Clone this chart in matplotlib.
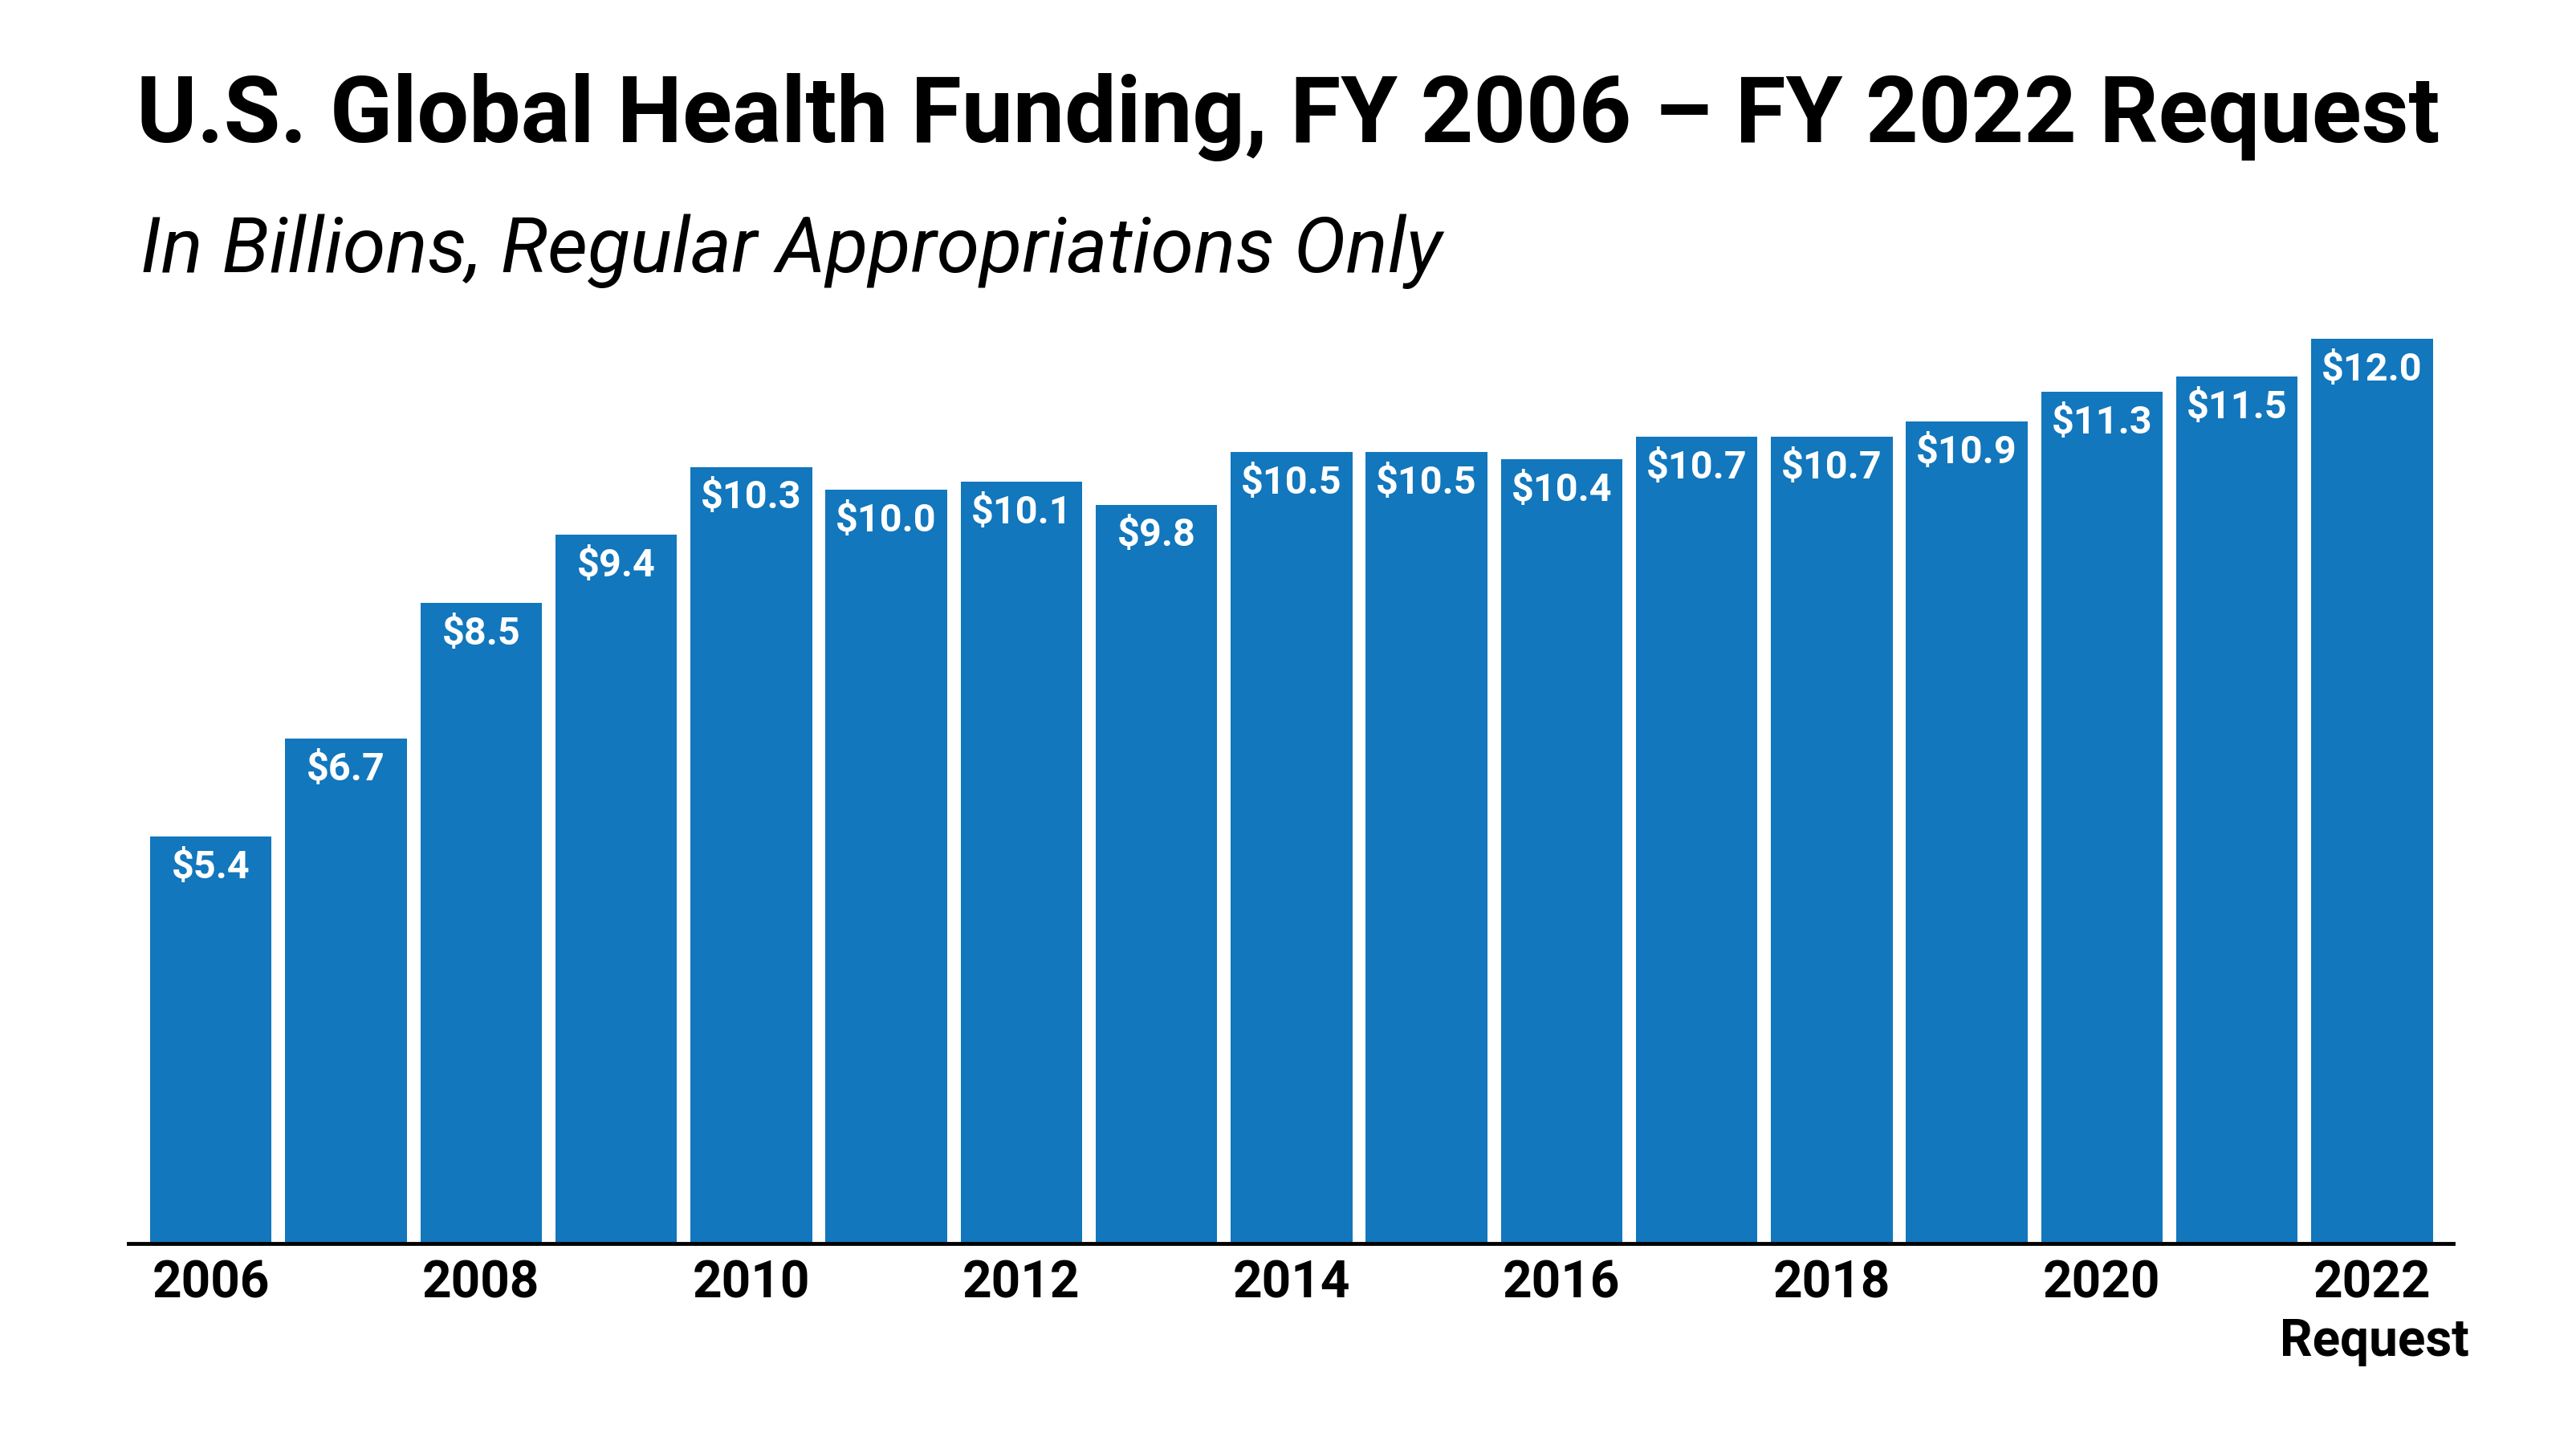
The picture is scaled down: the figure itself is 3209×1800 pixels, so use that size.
import matplotlib
matplotlib.use("Agg")
import matplotlib.pyplot as plt

years = [2006, 2007, 2008, 2009, 2010, 2011, 2012, 2013, 2014, 2015,
         2016, 2017, 2018, 2019, 2020, 2021, 2022]
funding = [5.4, 6.7, 8.5, 9.4, 10.3, 10.0, 10.1, 9.8, 10.5, 10.5,
           10.4, 10.7, 10.7, 10.9, 11.3, 11.5, 12.0]
tick_years = [2006, 2008, 2010, 2012, 2014, 2016, 2018, 2020, 2022]

BLUE = "#1277bc"
plt.rcParams['font.family'] = ['Roboto', 'DejaVu Sans']

fig = plt.figure(figsize=(32.09, 18.0), dpi=100)
ax = fig.add_axes([0.0499, 0.1394, 0.9024, 0.6262])

x = list(range(len(years)))
bars = ax.bar(x, funding, width=0.9, color=BLUE)

# value labels inside the top of each bar
for xi, v in zip(x, funding):
    ax.annotate("$%.1f" % v, (xi, v), xytext=(0, -28), textcoords="offset points",
                ha="center", va="center", color="white", fontsize=35, fontweight="bold")

ax.set_xlim(-0.61, 16.6)
ax.set_ylim(0, 12.0)
tick_pos = [years.index(y) for y in tick_years]
ax.set_xticks(tick_pos)
ax.set_xticklabels([str(y) for y in tick_years], fontsize=46, fontweight="bold")
ax.tick_params(axis="x", length=0, pad=14)
ax.set_yticks([])
for s in ["top", "right", "left"]:
    ax.spines[s].set_visible(False)
ax.spines["bottom"].set_linewidth(3.5)
ax.spines["bottom"].set_color("black")

# "Request" under the 2022 label
ax.annotate("Request", (years.index(2022), 0), xytext=(2, -88), textcoords="offset points",
            ha="center", va="center", fontsize=46, fontweight="bold")

fig.text(0.5, 0.919, "U.S. Global Health Funding, FY 2006 \u2013 FY 2022 Request",
         ha="center", va="center", fontsize=82.5, fontweight="bold")
fig.text(0.0545, 0.826, "In Billions, Regular Appropriations Only",
         ha="left", va="center", fontsize=70, fontstyle="italic")

fig.savefig("out.png", dpi=100, facecolor="white")
